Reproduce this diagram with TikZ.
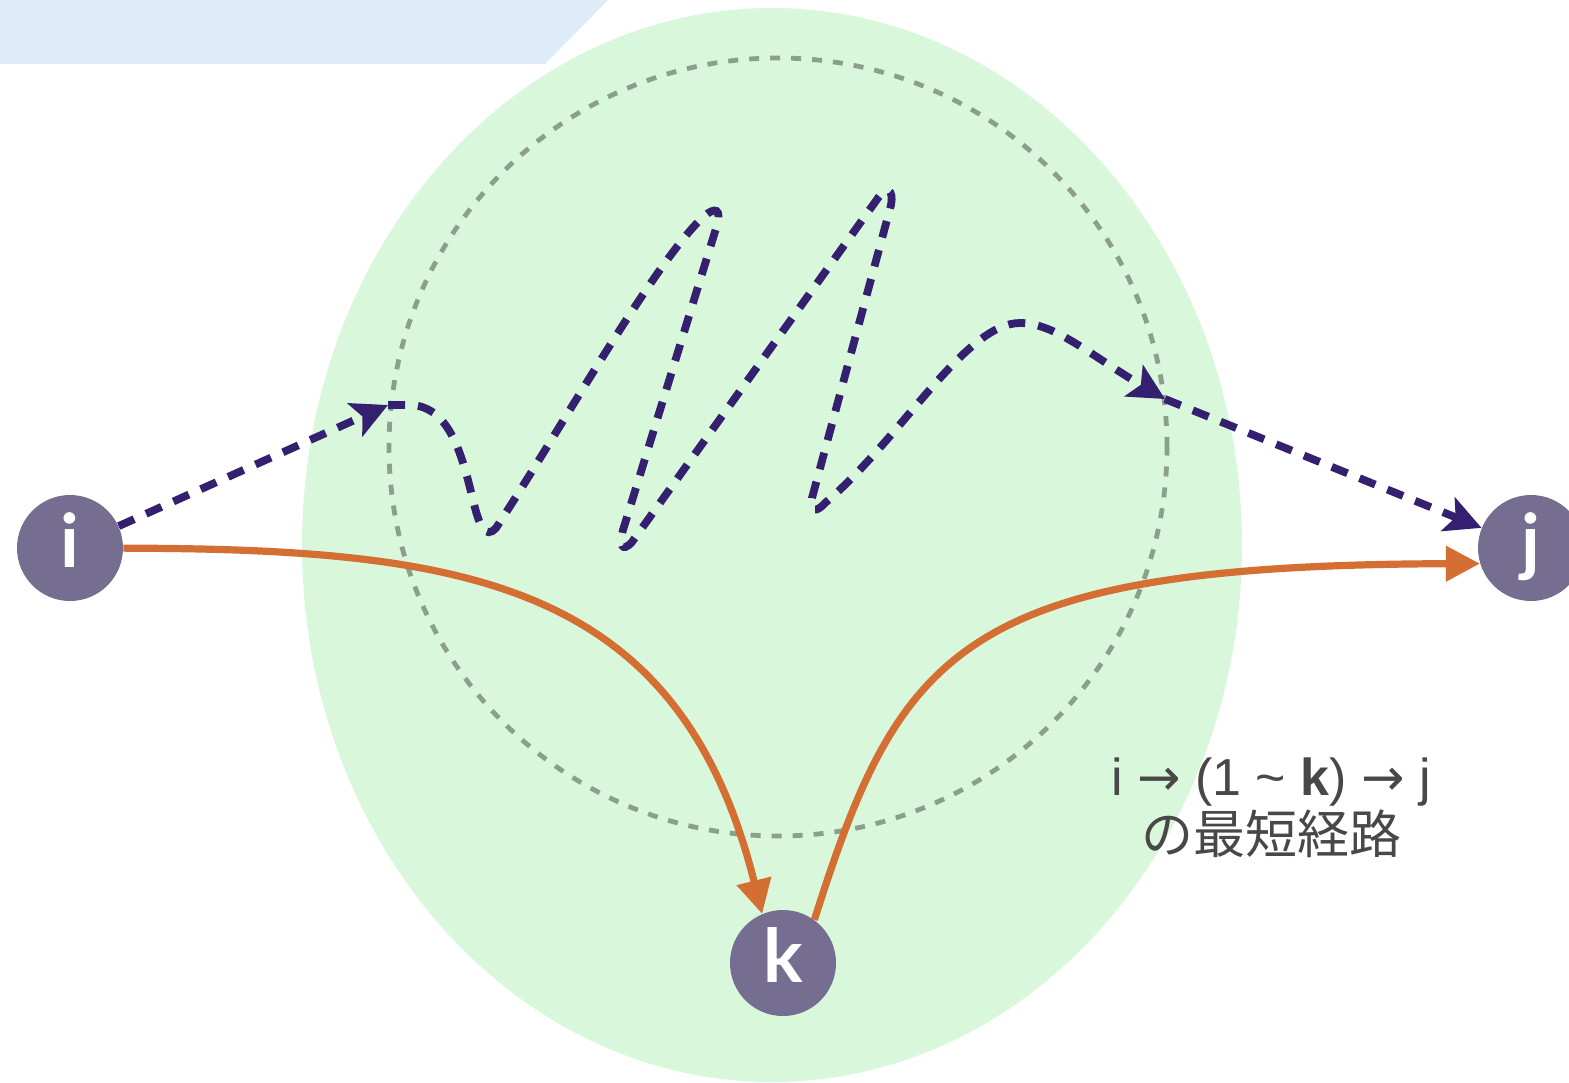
\documentclass[tikz,border=0pt]{standalone}
\usepackage{fontspec}
\setmainfont{Lato}
\newfontfamily\jpfont{Noto Sans CJK JP}
\newfontfamily\latfont{Liberation Sans}
\newfontfamily\arrfont{DejaVu Sans}
\usetikzlibrary{arrows.meta}
\definecolor{nodefill}{HTML}{756E91}
\definecolor{greenbg}{HTML}{D9F8DB}
\definecolor{bannerblue}{HTML}{DEECFA}
\definecolor{pathpurple}{HTML}{34206F}
\definecolor{orangec}{HTML}{D46E33}
\definecolor{greydot}{HTML}{8C9F8C}
\definecolor{labelgrey}{HTML}{484848}
\newcommand\rarr{{\arrfont →}}
\begin{document}
\begin{tikzpicture}[x=0.5pt,y=-0.5pt,
  vtx/.style={circle, fill=nodefill, minimum size=53pt, inner sep=0pt, text=white,
    text height=26pt, text depth=7pt, font=\fontsize{37}{37}\selectfont\bfseries},
  pdash/.style={draw=pathpurple, line width=3.9pt, dash pattern=on 8.5pt off 6.5pt},
  ptip/.style={-{Stealth[length=18pt,width=18pt,inset=4pt]}},
  oline/.style={draw=orangec, line width=3.6pt, -{Triangle[length=17pt,width=17pt]}},
  gdot/.style={draw=greydot, line width=2.4pt, dash pattern=on 5pt off 5.5pt},
  lbl/.style={text=labelgrey, align=center, font=\fontsize{26}{29}\selectfont}
]
\useasboundingbox (0,0) rectangle (1569,1082);
% background shapes
\fill[bannerblue] (0,0) -- (608,0) -- (545,64) -- (0,64) -- cycle;
\fill[greenbg] (772,545) ellipse [x radius=235pt, y radius=268.5pt];
\draw[gdot] (778,447) circle [radius=194.5pt];

% nodes
\node[vtx] (i) at (70,548) {i};
\node[vtx] (j) at (1531,548) {j};
\node[vtx] (k) at (783,963) {k};

\coordinate (w1) at (388,405);
\coordinate (w2) at (1165,399);

% orange paths
\draw[oline] (i) .. controls (463,549) and (679,580) .. (k.113);
\draw[oline] (k.54) .. controls (900,650) and (960,565) .. (j.197);

% purple dashed path
\draw[pdash, ptip] (i) -- (w1);
\draw[pdash, ptip] (w1) -- (412,405)
  .. controls (450,408) and (462,455) .. (473,500)
  .. controls (479,525) and (485,540) .. (496,528)
  .. controls (560,430) and (650,270) .. (700,220)
  .. controls (711,209) and (721,205) .. (718,222)
  -- (623,530)
  .. controls (619,545) and (622,553) .. (632,542)
  -- (878,198)
  .. controls (886,187) and (894,188) .. (891,205)
  -- (812,498)
  .. controls (810,512) and (816,513) .. (825,503)
  .. controls (900,440) and (965,323) .. (1020,323)
  .. controls (1055,323) and (1090,355) .. (w2);
\draw[pdash, ptip] (w2) -- (j);

% label
\node[lbl] (lab) at (1271,808) {{\latfont i \rarr{} (1 {\char"7E} {\bfseries k}) \rarr{} j}\\{\jpfont の最短経路}};
\end{tikzpicture}
\end{document}
